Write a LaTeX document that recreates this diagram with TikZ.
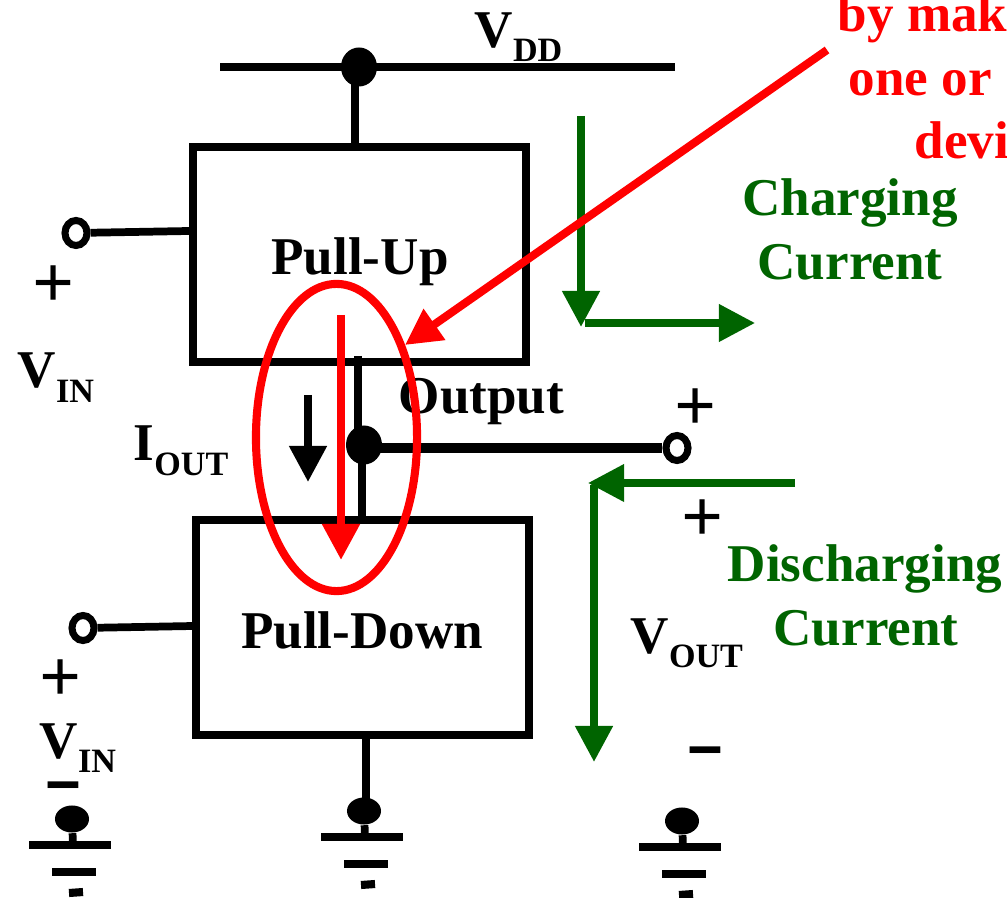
\documentclass[tikz,border=0pt]{standalone}
\usepackage{fontspec}
\setmainfont{Liberation Serif}
\usetikzlibrary{arrows.meta}
\usetikzlibrary{shapes.geometric}
\definecolor{curgreen}{RGB}{0,100,0}
\newcommand{\lowtext}[1]{\lower0.14cm\hbox{\fontsize{9.7}{11}\selectfont #1}}
\tikzset{
  wire/.style={black,line width=2.2pt},
  blockbox/.style={draw=black,line width=2.3pt,rectangle,minimum width=3.33cm,inner sep=0},
  label/.style={font=\bfseries\fontsize{15.1}{18}\selectfont,inner sep=0,anchor=base},
  labelw/.style={label,anchor=base west},
  plusmark/.style={font=\bfseries\fontsize{21}{24}\selectfont,inner sep=0,anchor=center},
  minusmark/.style={font=\bfseries\fontsize{17}{20}\selectfont,inner sep=0,anchor=center},
  solder/.style={ellipse,fill=black,inner sep=0,minimum width=0.36cm,minimum height=0.39cm},
  terminal/.style={ellipse,draw=black,fill=white,line width=2pt,inner sep=0,minimum width=0.22cm,minimum height=0.25cm},
  arrowtip/.style={-{Triangle[width=0.36cm,length=0.36cm]}},
  greenarrow/.style={curgreen,line width=2.2pt,arrowtip},
  redline/.style={red,line width=2.3pt}
}
\begin{document}
\begin{tikzpicture}[x=0.01cm,y=-0.01cm]
\useasboundingbox (0,0) rectangle (1007,898);

\coordinate (railL) at (220,67);
\coordinate (railR) at (675,67);
\coordinate (upA) at (355,67);
\coordinate (upB) at (355,147);
\coordinate (outA) at (358,356);
\coordinate (outB) at (358,445);
\coordinate (outC) at (362,445);
\coordinate (outD) at (362,520);
\coordinate (outE) at (364,448);
\coordinate (downA) at (366,736);
\coordinate (downB) at (366,811);
\coordinate (inupL) at (189,231);
\coordinate (indownL) at (193,626);

% blocks
\node[blockbox,minimum height=2.15cm] (pullup) at (359.5,254.5) {};
\node[blockbox,minimum height=2.15cm] (pulldown) at (362.5,627.5) {};
\node[label] (pulluptext) at (360,275) {Pull-Up};
\node[label] (pulldowntext) at (362,648) {Pull-Down};

% supply and output
\draw[wire] (railL)--(railR);
\node[solder] (vdddot) at (359,67) {};
\draw[wire] (upA)--(upB);
\draw[wire] (outA)--(outB);
\draw[wire,line width=2.4pt] (outC)--(outD);
\draw[wire] (downA)--(downB);
\node[solder] (outdot) at (364,445) {};
\node[terminal] (outterm) at (677,448) {};
\draw[black,line width=2.9pt] (outE)--(outterm);

% inputs
\node[terminal] (inupterm) at (76,233) {};
\node[terminal] (indownterm) at (83,628) {};
\draw[wire] (inupterm)--(inupL);
\draw[wire] (indownterm)--(indownL);

% grounds
\foreach \gname/\gx/\gy in {gleft/72/819,gmid/364/811,gright/682/821}{
  \node[solder,minimum width=0.34cm,minimum height=0.27cm] (\gname) at (\gx,\gy) {};
  \coordinate (\gname stem) at (\gx+1,\gy+26);
  \draw[wire] (\gname)--(\gname stem);
  \draw[black,line width=2.3pt] (\gx-43,\gy+26)--(\gx+39,\gy+26);
  \draw[black,line width=2.3pt] (\gx-20,\gy+53)--(\gx+24,\gy+53);
  \draw[black,line width=2.3pt] (\gx-3,\gy+74)--(\gx+11,\gy+73);
}

% texts
\node[labelw] (vdd) at (474,48) {V\lowtext{DD}};
\node[labelw] (vinup) at (17,388) {V\lowtext{IN}};
\node[labelw] (vindown) at (39,758) {V\lowtext{IN}};
\node[labelw] (iout) at (133,461) {I\lowtext{OUT}};
\node[labelw] (vout) at (630,653) {V\lowtext{OUT}};
\node[labelw] (output) at (398,414) {Output};
\node[plusmark] (plusA) at (54,287) {+};
\node[plusmark] (plusB) at (61,681) {+};
\node[plusmark] (plusC) at (696,410) {+};
\node[plusmark] (plusD) at (703,521) {+};
\node[minusmark] (minusA) at (63,795) {\scalebox{1}[1.6]{–}};
\node[minusmark] (minusB) at (705,760) {\scalebox{1}[1.6]{–}};

% current arrows
\coordinate (ioutA) at (308,395);
\coordinate (ioutB) at (308,482);
\draw[wire,arrowtip] (ioutA)--(ioutB);

\coordinate (chgA) at (581,116);
\coordinate (chgB) at (581,327);
\coordinate (chgC) at (585,323);
\coordinate (chgD) at (755,323);
\draw[greenarrow] (chgA)--(chgB);
\draw[greenarrow,line width=2pt] (chgC)--(chgD);
\node[label,text=curgreen] (chgtext) at (850,216) {Charging};
\node[label,text=curgreen] (chgtextb) at (850,280) {Current};

\coordinate (disA) at (795,483);
\coordinate (disB) at (588,483);
\coordinate (disC) at (594,485);
\coordinate (disD) at (594,762);
\draw[greenarrow,line width=2pt] (disA)--(disB);
\draw[greenarrow] (disC)--(disD);
\node[label,text=curgreen] (distext) at (865,581) {Discharging};
\node[label,text=curgreen] (distextb) at (866,645) {Current};

% red
\node[ellipse,draw=red,line width=2.3pt,inner sep=0,minimum width=1.61cm,minimum height=3.07cm] (redring) at (336.5,437.5) {};
\coordinate (redA) at (341,315);
\coordinate (redB) at (341,560);
\draw[redline,arrowtip] (redA)--(redB);
\coordinate (noteA) at (827,50);
\coordinate (noteB) at (405,345);
\draw[redline,arrowtip] (noteA)--(noteB);
\node[labelw,text=red] (noteone) at (837,32) {by mak};
\node[labelw,text=red] (notetwo) at (848,96) {one or};
\node[labelw,text=red] (notethree) at (914,159) {devi};

\end{tikzpicture}
\end{document}
